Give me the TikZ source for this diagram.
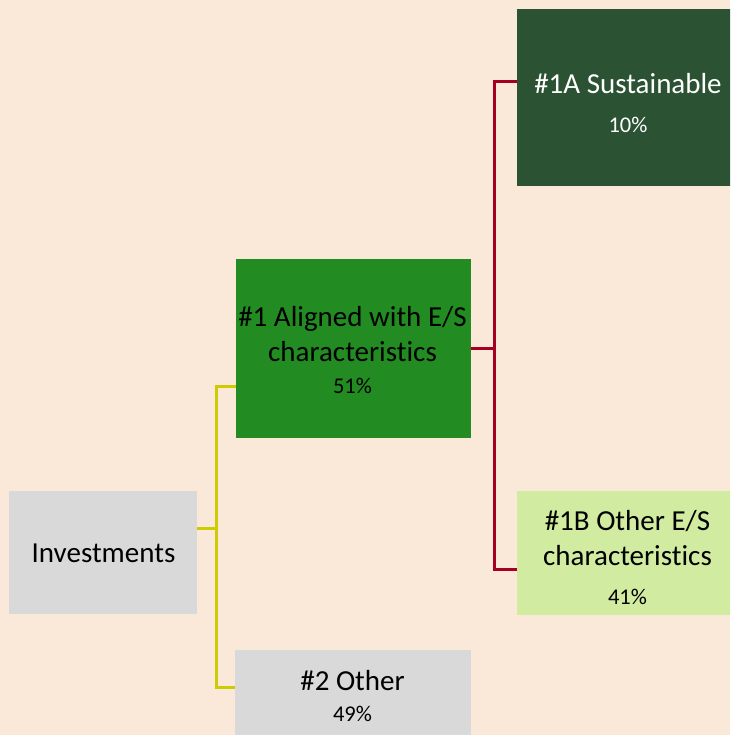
\documentclass[tikz,border=0pt]{standalone}
\usepackage{fontspec}
\setmainfont{Carlito}[Ligatures=NoCommon]
\usetikzlibrary{calc,positioning}
\definecolor{peach}{RGB}{250,233,216}
\definecolor{boxgray}{RGB}{217,217,217}
\definecolor{midgreen}{RGB}{34,139,34}
\definecolor{darkgreen}{RGB}{44,82,52}
\definecolor{palegreen}{RGB}{209,235,161}
\definecolor{busyellow}{RGB}{204,204,0}
\definecolor{busred}{RGB}{165,0,33}
\newcommand{\pctsize}{\fontsize{22.5}{26}\selectfont}

\begin{document}
\begin{tikzpicture}[x=1pt, y=-1pt,
    box/.style={rectangle, inner sep=0pt, outer sep=0pt},
    txt/.style={align=center, inner sep=0pt, font=\fontsize{29}{35}\selectfont},
    yline/.style={busyellow, line width=3pt},
    rline/.style={busred, line width=3pt}]

    \useasboundingbox (0,0) rectangle (730,735);
    \fill[peach] (0,0) rectangle (730,735);
    \clip (0,0) rectangle (730,735);

    \node[box, fill=boxgray, minimum width=188, minimum height=123] (inv) at (103,552.5) {};
    \node[box, fill=midgreen, minimum width=235, minimum height=179] (aligned) at (353.5,348.5) {};
    \node[box, fill=boxgray, minimum width=236, minimum height=96] (other) at (353,698) {};
    \node[box, fill=darkgreen, minimum width=222, minimum height=177] (sust) at (628,97.5) {};
    \node[box, fill=palegreen, minimum width=222, minimum height=124] (esother) at (628,553) {};

    \node[txt] (inv-t) at (103.5,553) {Investments};
    \node[txt] (aligned-t) at (352.5,350) {\#1 Aligned with E/S\\characteristics\\[-3pt]{\pctsize 51\%}};
    \node[txt] (other-t) at (352.5,696.5) {\#2 Other\\[-4pt]{\pctsize 49\%}};
    \node[txt, white] (sust-t) at (628,103) {\#1A Sustainable\\[4pt]{\pctsize 10\%}};
    \node[txt] (esother-t) at (627.5,557.5) {\#1B Other E/S\\characteristics\\[4pt]{\pctsize 41\%}};

    % investments to #1 and #2
    \draw[yline] ([yshift=24.5pt]inv.east) -- ++(19,0);
    \draw[yline] ([yshift=-37.5pt]aligned.west) -- ++(-20,0) |- ([yshift=11pt]other.west);

    % #1 to #1A and #1B
    \draw[rline] (aligned.east) -- ++(23,0);
    \draw[rline] ([yshift=15.5pt]sust.west) -- ++(-23,0) |- ([yshift=-16pt]esother.west);

\end{tikzpicture}
\end{document}
